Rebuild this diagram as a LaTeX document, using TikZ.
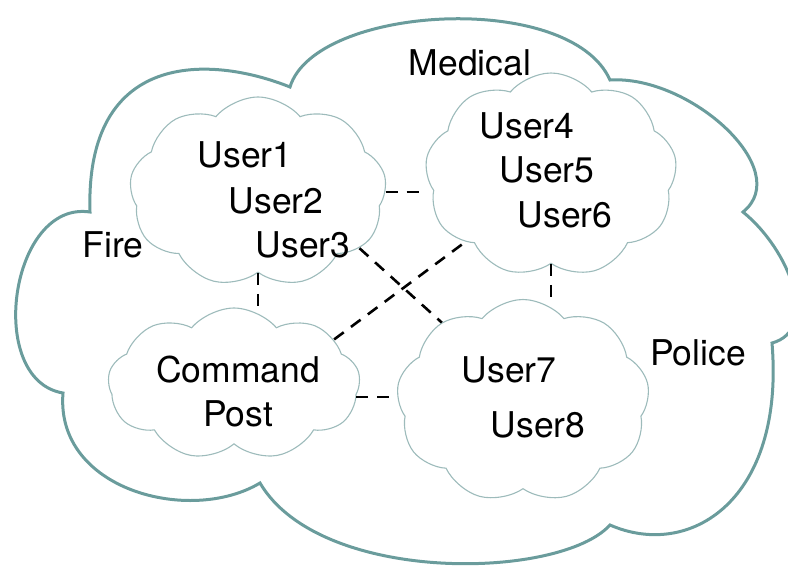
\documentclass[tikz,border=0pt]{standalone}
\usepackage{fontspec}
\setmainfont{TeX Gyre Heros}
\usetikzlibrary{shapes.symbols}
\definecolor{outerline}{HTML}{6A9C9C}
\definecolor{innerline}{HTML}{9DBBBB}

\begin{document}
\begin{tikzpicture}[x=1pt,y=-1pt]
\tikzset{
  subnet/.style={
    cloud, cloud puffs=9, cloud puff arc=100, cloud ignores aspect,
    draw=innerline, line width=1.1pt, inner sep=0pt
  },
  link/.style={draw, dash pattern=on 12pt off 9pt, line width=2.6pt}
};

\tikzstyle{lab}=[font=\fontsize{35.5}{44}\selectfont, inner sep=0pt, align=center]

\path[use as bounding box, clip] (0,0) rectangle (788,571);

\draw[outerline, line width=3pt]
  (90,212) .. controls (85,50) and (210,55) .. (290,87)
  .. controls (315,5) and (570,-10) .. (610,80)
  .. controls (690,75) and (795,170) .. (743,212)
  .. controls (790,250) and (820,330) .. (772,343)
  .. controls (785,500) and (690,560) .. (610,525)
  .. controls (560,580) and (320,585) .. (260,483)
  .. controls (190,525) and (55,490) .. (63,393)
  .. controls (-15,380) and (10,200) .. cycle;

\node[subnet, minimum width=257pt, minimum height=190pt] (fire) at (258,192) {};
\node[subnet, minimum width=252pt, minimum height=204pt] (medical) at (551,175) {};
\node[subnet, minimum width=252pt, minimum height=152pt] (post) at (234,384) {};
\node[subnet, minimum width=253pt, minimum height=203pt] (police) at (523,401) {};

\draw[link] (fire.east) -- (fire.east -| medical.west);
\draw[link] (fire.south) -- (fire.south |- post.north);
\draw[link] (medical.south) -- (medical.south |- police.north);
\draw[link] (post.-6) -- (post.-6 -| police.west);
\draw[link] (fire.-29) -- (police.136);
\draw[link] (post.24) -- (medical.218);

\node[lab] (medlab) at (470,63) {Medical};
\node[lab] (firelab) at (113,245) {Fire};
\node[lab] (pollab) at (698,353) {Police};

\node[lab] (u1) at (245,155) {User1};
\node[lab] (u2) at (276,201) {User2};
\node[lab] (u3) at (303,245) {User3};
\node[lab] (u4) at (527,126) {User4};
\node[lab] (u5) at (547,170) {User5};
\node[lab] (u6) at (565,215) {User6};
\node[lab] (cmd) at (238,392) {Command\\Post};
\node[lab] (u7) at (509,370) {User7};
\node[lab] (u8) at (538,425) {User8};
\end{tikzpicture}
\end{document}
